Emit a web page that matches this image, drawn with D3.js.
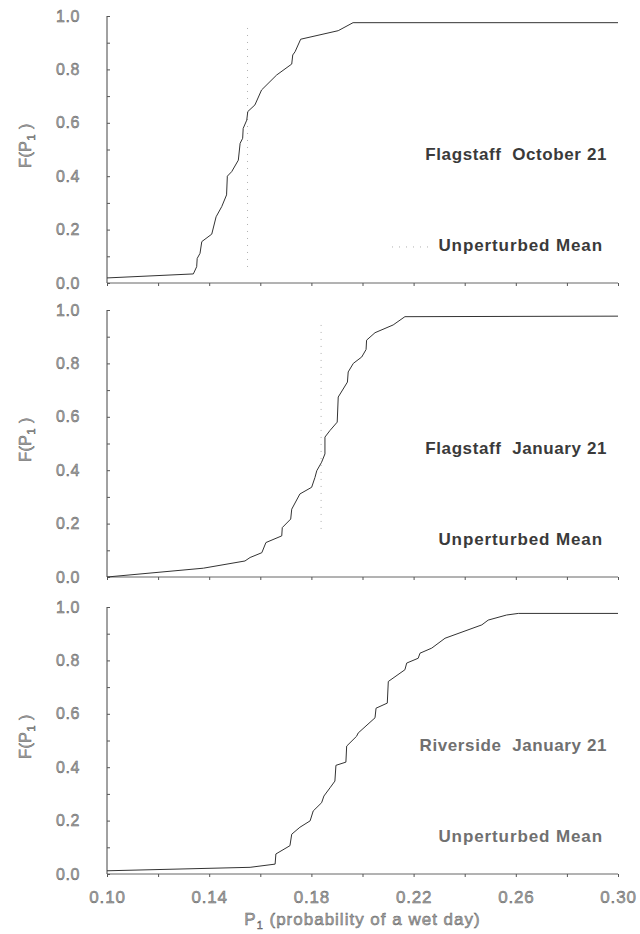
<!DOCTYPE html>
<html>
<head>
<meta charset="utf-8">
<script src="https://cdn.jsdelivr.net/npm/d3@7"></script>
<style>
  body { margin: 0; background: #fff; }
  svg { display: block; font-family: "Liberation Sans", Arial, Helvetica, sans-serif; }
  .lbl { white-space: pre; }
</style>
</head>
<body>
<svg id="board" width="640" height="934"></svg>
<script>
// panel 1: Flagstaff October 21
const octP = [0.100, 0.1338, 0.1351, 0.1353, 0.1364, 0.1371, 0.1410, 0.1427, 0.1449, 0.1468, 0.1471, 0.1488, 0.1514, 0.1521, 0.1531, 0.1533, 0.1547, 0.1551, 0.1579, 0.1605, 0.1664, 0.1723, 0.1727, 0.1736, 0.1758, 0.1905, 0.1963, 0.300];
const octF = [0.019, 0.034, 0.061, 0.092, 0.111, 0.155, 0.183, 0.248, 0.286, 0.330, 0.400, 0.417, 0.460, 0.523, 0.542, 0.579, 0.610, 0.642, 0.667, 0.723, 0.779, 0.820, 0.854, 0.866, 0.913, 0.945, 0.975, 0.975];

// panel 2: Flagstaff January 21
const janP = [0.100, 0.1377, 0.1540, 0.1560, 0.1606, 0.1622, 0.1684, 0.1686, 0.1719, 0.1723, 0.1755, 0.1801, 0.1814, 0.1821, 0.1840, 0.1853, 0.1853, 0.1873, 0.1901, 0.1905, 0.1941, 0.1944, 0.1964, 0.1997, 0.2014, 0.2016, 0.2049, 0.2120, 0.2166, 0.300];
const janF = [0.000, 0.033, 0.060, 0.073, 0.091, 0.129, 0.154, 0.185, 0.217, 0.254, 0.311, 0.336, 0.373, 0.398, 0.430, 0.461, 0.524, 0.549, 0.580, 0.674, 0.730, 0.768, 0.800, 0.824, 0.852, 0.887, 0.915, 0.944, 0.975, 0.977];

// panel 3: Riverside January 21
const rivP = [0.100, 0.1560, 0.1658, 0.1661, 0.1716, 0.1723, 0.1755, 0.1795, 0.1807, 0.1840, 0.1849, 0.1873, 0.1892, 0.1896, 0.1935, 0.1938, 0.1977, 0.1983, 0.2049, 0.2053, 0.2097, 0.2101, 0.2166, 0.2173, 0.2218, 0.2225, 0.2271, 0.2323, 0.2467, 0.2492, 0.2564, 0.2610, 0.300];
const rivF = [0.012, 0.025, 0.037, 0.075, 0.106, 0.149, 0.175, 0.199, 0.236, 0.267, 0.292, 0.323, 0.348, 0.407, 0.419, 0.479, 0.516, 0.528, 0.585, 0.621, 0.640, 0.721, 0.765, 0.790, 0.808, 0.827, 0.846, 0.883, 0.933, 0.951, 0.970, 0.976, 0.976];

const titles = ["Flagstaff  October 21", "Flagstaff  January 21", "Riverside  January 21"];
const meanP = [0.155, 0.1838, null];
const meanSpan = [[0.06, 0.97], [0.18, 0.95], null];

const xTicks = d3.range(0.10, 0.3001, 0.02);
const xLabels = [0.10, 0.14, 0.18, 0.22, 0.26, 0.30];
const yTicks = d3.range(0, 1.001, 0.1);
const yLabels = [0, 0.2, 0.4, 0.6, 0.8, 1.0];

const board = d3.select("#board");
const left = 107, right = 618;
const tops = [16, 310, 607];
const ph = 267;

const x = d3.scaleLinear().domain([0.10, 0.30]).range([left, right]);

const panels = [
    { P: octP, F: octF, color: "#3a3a3a" },
    { P: janP, F: janF, color: "#3a3a3a" },
    { P: rivP, F: rivF, color: "#707070" }
];

function hollow(sel) {
    return sel.attr("fill", "#a8a8a8").attr("stroke", "#5a5a5a").attr("stroke-width", 0.45);
}

panels.forEach((p, i) => {
    const top = tops[i];
    const y = d3.scaleLinear().domain([0, 1]).range([top + ph, top]);
    const g = board.append("g");

    // x axis
    const xa = g.append("g")
        .attr("transform", `translate(0,${top + ph})`)
        .call(d3.axisBottom(x).tickValues(xTicks).tickSize(3)
            .tickFormat(d => (i === 2 && xLabels.some(v => Math.abs(v - d) < 1e-6)) ? d3.format(".2f")(d) : ""));
    xa.select(".domain").attr("stroke", "#666").attr("d", `M${left},0H${right}`);
    xa.selectAll(".tick line").attr("stroke", "#555");
    hollow(xa.selectAll(".tick text"))
        .attr("y", 17).attr("dy", "0.71em")
        .style("font-size", "17px").style("letter-spacing", "0.8px")
        .attr("font-family", "Liberation Sans, Arial, sans-serif");

    // y axis
    const ya = g.append("g")
        .attr("transform", `translate(${left},0)`)
        .call(d3.axisLeft(y).tickValues(yTicks).tickSize(-3)
            .tickFormat(d => yLabels.some(v => Math.abs(v - d) < 1e-6) ? d3.format(".1f")(d) : ""));
    ya.select(".domain").attr("stroke", "#444").attr("d", `M0,${top}V${top + ph}`);
    ya.selectAll(".tick line").attr("stroke", "#555");
    hollow(ya.selectAll(".tick text"))
        .attr("x", -27)
        .style("font-size", "16px").style("letter-spacing", "0.6px")
        .attr("font-family", "Liberation Sans, Arial, sans-serif");

    // y title
    const yt = hollow(g.append("text")
        .attr("transform", `translate(31,${top + ph * 0.485}) rotate(-90)`)
        .attr("text-anchor", "middle")
        .style("font-size", "16px").style("letter-spacing", "0.5px"));
    yt.append("tspan").text("F(P");
    yt.append("tspan").style("font-size", "11px").attr("dy", 4).text("1");
    yt.append("tspan").attr("dy", -4).text("\u00a0)");

    // unperturbed mean
    if (meanP[i] !== null) {
        g.append("line")
            .attr("x1", x(meanP[i])).attr("x2", x(meanP[i]))
            .attr("y1", y(meanSpan[i][0])).attr("y2", y(meanSpan[i][1]))
            .attr("stroke", "#b0b0b0").attr("stroke-width", 1)
            .attr("stroke-dasharray", "1,6");
    }

    // CDF curve
    const pts = p.P.map((v, k) => [v, p.F[k]]);
    g.append("path")
        .datum(pts)
        .attr("fill", "none")
        .attr("stroke", "#333")
        .attr("stroke-width", 1)
        .attr("d", d3.line().x(d => x(d[0])).y(d => y(d[1])));

    // labels
    g.append("text")
        .attr("class", "lbl")
        .attr("x", 607).attr("y", top + ph * (1 - 0.477))
        .attr("text-anchor", "end").attr("dominant-baseline", "middle")
        .style("font-size", "17px").style("letter-spacing", "0.6px").attr("font-weight", "bold")
        .attr("fill", p.color)
        .text(titles[i]);
    const ly = top + ph * (1 - 0.135);
    g.append("text")
        .attr("class", "lbl")
        .attr("x", 603).attr("y", ly)
        .attr("text-anchor", "end").attr("dominant-baseline", "middle")
        .style("font-size", "17px").style("letter-spacing", "0.9px").attr("font-weight", "bold")
        .attr("fill", p.color)
        .text("Unperturbed Mean");
    if (i === 0) {
        g.append("line")
            .attr("x1", 392).attr("x2", 432).attr("y1", ly).attr("y2", ly)
            .attr("stroke", "#b0b0b0").attr("stroke-dasharray", "1,6");
    }
});

// x title
const xt = hollow(board.append("text")
    .attr("x", (left + right) / 2).attr("y", 925)
    .attr("text-anchor", "middle")
    .style("font-size", "17px").style("letter-spacing", "1px"));
xt.append("tspan").text("P");
xt.append("tspan").style("font-size", "11px").attr("dy", 4).text("1");
xt.append("tspan").attr("dy", -4).text(" (probability of a wet day)");
</script>
</body>
</html>
